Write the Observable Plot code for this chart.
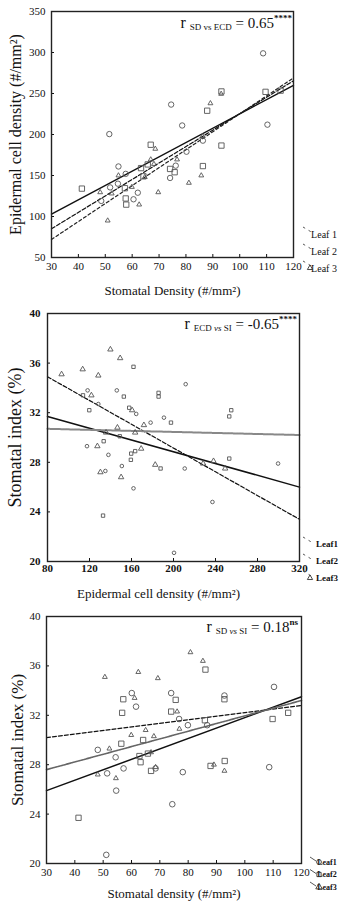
<!DOCTYPE html>
<html><head><meta charset="utf-8">
<script src="https://cdn.jsdelivr.net/npm/d3@7"></script>
<script src="https://cdn.jsdelivr.net/npm/@observablehq/plot@0.6"></script>
<style>
body{margin:0;background:#fff;}
#c svg{display:block;}
</style></head><body><div id="c"></div>
<script>
// ---------- DATA ----------
const leafLabels = ["Leaf 1", "Leaf 2", "Leaf 3"];
const leafLabelsShort = ["Leaf1", "Leaf2", "Leaf3"];

// Panel 1: Stomatal density (x) vs Epidermal cell density (y)
const p1Leaf1 = [[51.5,200.5],[54.9,161],[57.6,152],[54.7,140],[51.8,135.5],[48.5,119],[60.5,121],[62.1,129],[74.5,236.5],[78.6,211],[74.1,147],[80.2,179],[76.2,162],[86.3,192.5],[108.7,299],[110.3,212]];
const p1Leaf2 = [[41.3,134],[57.3,134.5],[57.6,122],[57.8,114.5],[63.3,159],[65.8,163.5],[64.2,149],[66.9,187.5],[74.1,158],[75.8,154],[93.2,252.5],[87.9,229],[93.2,186.5],[86.3,161.5],[109.6,252],[115.2,253.5]];
const p1Leaf3 = [[50.9,95],[48.1,129.5],[52.4,128],[54.9,150],[59.9,136],[62.6,114.5],[64.7,148],[66.9,169.5],[68.6,182.5],[68.1,164],[69.7,129.5],[76.7,169.5],[81.1,141],[85.7,150],[86.2,198],[89.1,238],[93.1,249.5]];
const p1FitX = [30, 120];
const p1FitLeaf1 = [103, 260];
const p1FitLeaf2 = [85, 265.5];
const p1FitLeaf3 = [72, 269];
const p1XTicks = [30,40,50,60,70,80,90,100,110,120];
const p1YTicks = [50,100,150,200,250,300,350];

// Panel 2: Epidermal cell density (x) vs Stomatal index (y)
const p2Leaf1 = [[118.2,33.8],[128.4,32.7],[117.6,29.3],[138,28.6],[135.1,27.3],[150.8,27.7],[146,33.8],[164.5,31.9],[178.2,31.2],[190.9,31.6],[211.6,34.3],[210.7,27.5],[161.9,25.9],[237.1,24.8],[200.5,20.7],[299.6,27.9]];
const p2Leaf2 = [[113.8,33.4],[119.8,32.2],[152.7,33.3],[161.9,35.7],[157.8,32.4],[185.8,33.6],[185.8,33.3],[197.6,31.2],[148.8,30.1],[133.5,29.7],[159.7,28.7],[159.4,28.2],[163.5,28.9],[187.7,27.5],[132.9,23.7],[253.1,31.7],[255,32.2],[253.1,28.3]];
const p2Leaf3 = [[93.4,35.1],[113.5,35.5],[128.4,35.0],[139.9,37.1],[149.2,36.4],[121.8,33.4],[160.6,32.2],[146.6,30.8],[135.8,30.4],[171.8,31.0],[127.5,29.3],[169.2,29.1],[182.6,27.8],[130.4,27.2],[150.1,26.8],[238.1,28.1],[249.2,27.5],[163.5,30.4],[228.2,27.9]];
const p2FitX = [80, 320];
const p2FitLeaf1 = [31.7, 26.0];
const p2FitLeaf2 = [34.9, 23.4];
const p2FitLeaf3 = [30.7, 30.2];
const p2XTicks = [80,120,160,200,240,280,320];
const p2YTicks = [20,24,28,32,36,40];

// Panel 3: Stomatal density (x) vs Stomatal index (y)
const p3Leaf1 = [[48.1,29.2],[51.4,27.3],[54.4,28.6],[54.6,25.9],[57.2,27.7],[60.1,33.8],[61.6,32.7],[51.1,20.7],[74,33.8],[74.4,24.8],[68.5,27.7],[79.9,31.2],[92.8,33.6],[110.3,34.3],[78.1,27.4],[108.6,27.8],[86.7,31.2],[76.8,31.7]];
const p3Leaf2 = [[41.3,23.7],[57.1,33.3],[56.7,32.2],[56.4,29.7],[64.1,30.0],[62.8,28.7],[63.2,28.2],[65.8,28.9],[66.9,27.5],[74,32.3],[75.6,33.25],[86.1,35.7],[92.8,33.3],[87.9,27.9],[92.9,28.3],[109.8,31.7],[115.3,32.2],[85.9,31.6]];
const p3Leaf3 = [[50.6,35.1],[62.4,35.5],[69.3,35.0],[61.1,33.4],[59.9,30.4],[65,30.8],[67.9,30.3],[52.2,29.3],[48.1,27.2],[54.5,26.9],[66.9,29.0],[68.5,27.8],[80.8,37.1],[85.2,36.4],[76.1,32.3],[76.9,30.9],[89.1,28.0],[92.8,27.5]];
const p3FitX = [30, 120];
const p3FitLeaf1 = [25.9, 33.5];
const p3FitLeaf2 = [30.2, 32.8];
const p3FitLeaf3 = [27.6, 33.2];
const p3XTicks = [30,40,50,60,70,80,90,100,110,120];
const p3YTicks = [20,24,28,32,36,40];

// ---------- DRAWING ----------
const SERIF = "'Liberation Serif','Times New Roman',serif";
const PT = "#555";

function fitRows(xs, ys) { return xs.map((x, i) => ({x, y: ys[i]})); }

function makePanel(cfg) {
  const [mt, mr, mb, ml] = cfg.margins;
  const marks = [
    Plot.axisX({ticks: cfg.xTicks, tickSize: -3, tickPadding: cfg.xPad, label: null, fontSize: 11, fontWeight: cfg.tickWeight}),
    Plot.axisY({ticks: cfg.yTicks, tickSize: -3, tickPadding: cfg.yPad, label: null, fontSize: 11, fontWeight: cfg.tickWeight}),
  ];
  cfg.fits.forEach((f, i) => {
    const s = cfg.fitStyles[i];
    marks.push(Plot.line(fitRows(cfg.fitX, f), {x: "x", y: "y", stroke: s.stroke, strokeWidth: s.w, strokeDasharray: s.dash}));
  });
  const syms = ["circle", "square", "triangle"];
  cfg.points.forEach((pts, i) => {
    marks.push(Plot.dot(pts, {x: d => d[0], y: d => d[1], symbol: syms[i], r: cfg.r[i], stroke: PT, fill: "none", strokeWidth: 0.9}));
  });
  marks.push(Plot.frame({stroke: "#222", strokeWidth: 1.4}));
  marks.push(Plot.text([cfg.xTitle], {frameAnchor: "bottom", textAnchor: "middle", lineAnchor: "middle", dy: cfg.xTitleDy, dx: cfg.xTitleDx || 0, fontSize: cfg.xTitleSize, fill: "#111"}));
  marks.push(Plot.text([cfg.yTitle], {frameAnchor: "left", textAnchor: "middle", lineAnchor: "middle", rotate: -90, dx: cfg.yTitleDx, fontSize: cfg.yTitleSize, fill: "#111"}));

  const svg = Plot.plot({
    width: 349, height: cfg.height,
    marginTop: mt, marginRight: mr, marginBottom: mb, marginLeft: ml,
    x: {domain: cfg.xDomain},
    y: {domain: cfg.yDomain},
    style: {fontFamily: SERIF, color: "#111", background: "#fff", overflow: "visible"},
    marks
  });

  const s = d3.select(svg);
  const fr = 349 - mr, fb = cfg.height - mb;
  // correlation annotation
  const a = cfg.annot;
  const t = s.append("text").attr("x", fr - a.inset).attr("y", mt + a.base)
    .attr("text-anchor", "end").attr("font-family", SERIF).attr("fill", "#111");
  t.append("tspan").attr("font-size", a.big + 1).text("r ");
  const sub = t.append("tspan").attr("font-size", a.small).attr("dy", 2);
  a.sub.forEach(([txt, it]) => sub.append("tspan").attr("font-style", it ? "italic" : null).text(txt));
  t.append("tspan").attr("font-size", a.big).attr("dy", -2).text(a.value);
  t.append("tspan").attr("font-size", a.small).attr("font-weight", "bold").attr("dy", -7).text(a.sup);

  // legend
  const L = cfg.legend;
  const g = s.append("g").attr("font-family", SERIF).attr("fill", "#111");
  L.labels.forEach((lab, i) => {
    const y = fb + L.y0 + i * L.step;
    g.append("text").attr("x", L.x).attr("y", y).attr("dy", "0.35em")
      .attr("font-size", L.size).attr("font-weight", L.weight).text(lab);
    g.append("line").attr("x1", L.lx1).attr("y1", y - L.ldy).attr("x2", L.lx2).attr("y2", y - 1)
      .attr("stroke", "#444").attr("stroke-width", 0.9).attr("stroke-dasharray", L.dash);
    const sym = L.syms[i];
    if (sym) {
      const path = d3.symbol(sym === "circle" ? d3.symbolCircle : sym === "square" ? d3.symbolSquare : d3.symbolTriangle, L.symSize)();
      g.append("path").attr("d", path).attr("transform", `translate(${L.sx},${y})`)
        .attr("fill", "none").attr("stroke", "#333").attr("stroke-width", 0.9);
    }
  });
  return svg;
}

const c = document.getElementById("c");
c.appendChild(makePanel({
  height: 300, margins: [11, 56, 43, 51],
  xDomain: [30, 120], yDomain: [50, 350], xTicks: p1XTicks, yTicks: p1YTicks,
  xPad: 8, yPad: 9, tickWeight: "normal",
  points: [p1Leaf1, p1Leaf2, p1Leaf3], r: [2.7, 3.0, 1.8],
  fitX: p1FitX, fits: [p1FitLeaf1, p1FitLeaf2, p1FitLeaf3],
  fitStyles: [{stroke: "#111", w: 1.4}, {stroke: "#111", w: 1.2, dash: "4,2"}, {stroke: "#222", w: 1.2, dash: "3,2.5"}],
  xTitle: "Stomatal Density (#/mm²)", xTitleDy: 33, xTitleSize: 13,
  yTitle: "Epidermal cell density (#/mm²)", yTitleDx: -36, yTitleSize: 16,
  annot: {inset: 1, base: 17, big: 15, small: 9, sub: [["SD vs ECD", false]], value: " = 0.65", sup: "****"},
  legend: {labels: leafLabels, x: 324, y0: -23, step: 17, size: 10, weight: "normal",
    lx1: 303, lx2: 313, ldy: 7, dash: "2.5,4", syms: [null, null, "triangle"], sx: 310, symSize: 12}
}));
c.appendChild(makePanel({
  height: 300, margins: [13, 50, 39, 47],
  xDomain: [80, 320], yDomain: [20, 40], xTicks: p2XTicks, yTicks: p2YTicks,
  xPad: 6, yPad: 10, tickWeight: "bold",
  points: [p2Leaf1, p2Leaf2, p2Leaf3], r: [1.8, 1.9, 2.0],
  fitX: p2FitX, fits: [p2FitLeaf1, p2FitLeaf2, p2FitLeaf3],
  fitStyles: [{stroke: "#111", w: 1.5}, {stroke: "#111", w: 1.2, dash: "4,2"}, {stroke: "#888", w: 2, dash: "2,1"}],
  xTitle: "Epidermal cell density (#/mm²)", xTitleDy: 32, xTitleDx: -15, xTitleSize: 13,
  yTitle: "Stomatal index (%)", yTitleDx: -32, yTitleSize: 18,
  annot: {inset: 2, base: 16, big: 15, small: 9, sub: [["ECD ", false], ["vs", true], [" SI", false]], value: " = -0.65", sup: "****"},
  legend: {labels: leafLabelsShort, x: 327, y0: -17, step: 17, size: 9, weight: "bold",
    lx1: 303, lx2: 313, ldy: 7, dash: "2.5,4", syms: [null, null, "triangle"], sx: 310, symSize: 12}
}));
c.appendChild(makePanel({
  height: 308, margins: [16, 48, 45, 46],
  xDomain: [30, 120], yDomain: [20, 40], xTicks: p3XTicks, yTicks: p3YTicks,
  xPad: 8, yPad: 9, tickWeight: "normal",
  points: [p3Leaf1, p3Leaf2, p3Leaf3], r: [2.8, 3.0, 1.8],
  fitX: p3FitX, fits: [p3FitLeaf1, p3FitLeaf2, p3FitLeaf3],
  fitStyles: [{stroke: "#111", w: 1.5}, {stroke: "#111", w: 1.2, dash: "4,2"}, {stroke: "#666", w: 1.6, dash: "2,1"}],
  xTitle: "Stomatal density (#/mm²)", xTitleDy: 30, xTitleSize: 13,
  yTitle: "Stomatal index (%)", yTitleDx: -29, yTitleSize: 17,
  annot: {inset: 3, base: 16, big: 15, small: 9, sub: [["SD ", false], ["vs", true], [" SI", false]], value: " = 0.18", sup: "ns"},
  legend: {labels: leafLabelsShort, x: 327, y0: -1, step: 12.5, size: 8, weight: "bold",
    lx1: 310, lx2: 316, ldy: 5, dash: "none", syms: ["circle", "square", "triangle"], sx: 319, symSize: 18}
}));
</script></body></html>
